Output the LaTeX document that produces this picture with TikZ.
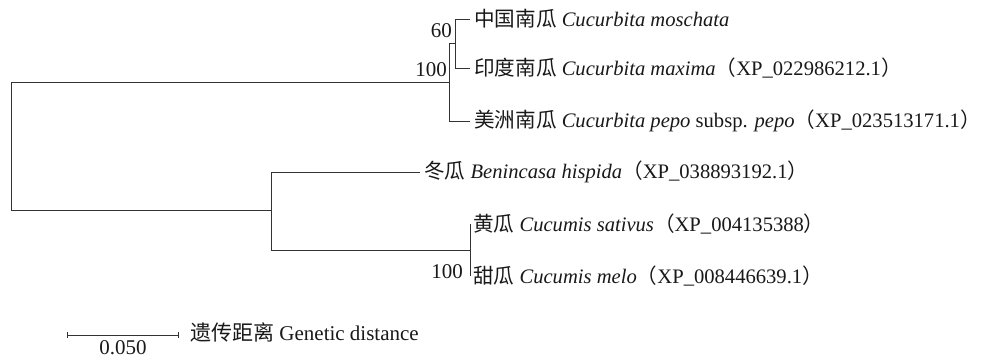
\documentclass[tikz,border=0pt]{standalone}
\usepackage{fontspec}
\setmainfont{Liberation Serif}
\newfontfamily\cjkfont{Noto Sans CJK SC}
\newcommand\zh[1]{{\cjkfont #1}}
\usetikzlibrary{arrows.meta}
\begin{document}
\begin{tikzpicture}[x=1pt,y=-1pt,
  br/.style={draw=black!80, line width=0.9pt},
  leaf/.style={anchor=west, inner xsep=4pt, inner ysep=0pt, font=\fontsize{20.6}{25}\selectfont, text=black!90},
  boot/.style={anchor=east, inner sep=0pt, font=\fontsize{21}{25}\selectfont, text=black!90}]
\useasboundingbox (0,0) rectangle (986,357);
\coordinate (root) at (11,145.5);
\coordinate (A) at (449,82);
\coordinate (C) at (455,43.5);
\coordinate (B) at (271,210.5);
\coordinate (D) at (470,250);
\node[leaf] (mos) at (470,19) {\zh{中国南瓜} \textit{Cucurbita moschata}};
\node[leaf] (max) at (470,68) {\zh{印度南瓜} \textit{Cucurbita maxima}\zh{（}XP\_022986212.1\zh{）}};
\node[leaf] (pep) at (470,121) {\zh{美洲南瓜} \textit{Cucurbita pepo} subsp. \textit{pepo}\zh{（}XP\_023513171.1\zh{）}};
\node[leaf] (ben) at (420,172) {\zh{冬瓜} \textit{Benincasa hispida}\zh{（}XP\_038893192.1\zh{）}};
\node[leaf, inner xsep=3pt] (sat) at (470,224) {\zh{黄瓜} \textit{Cucumis sativus}\zh{（}XP\_004135388\zh{）}};
\node[leaf, inner xsep=3pt] (mel) at (470,276) {\zh{甜瓜} \textit{Cucumis melo}\zh{（}XP\_008446639.1\zh{）}};
\draw[br] (root) |- (A);
\draw[br] (root) |- (B);
\draw[br] (A) |- (C);
\draw[br] (A) |- (pep.west);
\draw[br] (C) |- (mos.west);
\draw[br] (C) |- (max.west);
\draw[br] (B) |- (ben.west);
\draw[br] (B) |- (D);
\draw[br] (D) |- (sat.west);
\draw[br] (D) |- (mel.west);
\node[boot] (b1) at (452,31) {60};
\node[boot] (b2) at (447,70) {100};
\node[boot] (b3) at (463,272) {100};
\coordinate (s1) at (67,335);
\coordinate (s2) at (179,335);
\draw[br, {Bar[width=6pt]}-{Bar[width=6pt]}] (s1) -- (s2);
\node[anchor=north, inner sep=0pt, font=\fontsize{21}{25}\selectfont, text=black!90] (sl) at (123,340) {0.050};
\node[leaf, inner xsep=0pt, font=\fontsize{21}{25}\selectfont] (sd) at (190,332) {\zh{遗传距离} Genetic distance};
\end{tikzpicture}
\end{document}
